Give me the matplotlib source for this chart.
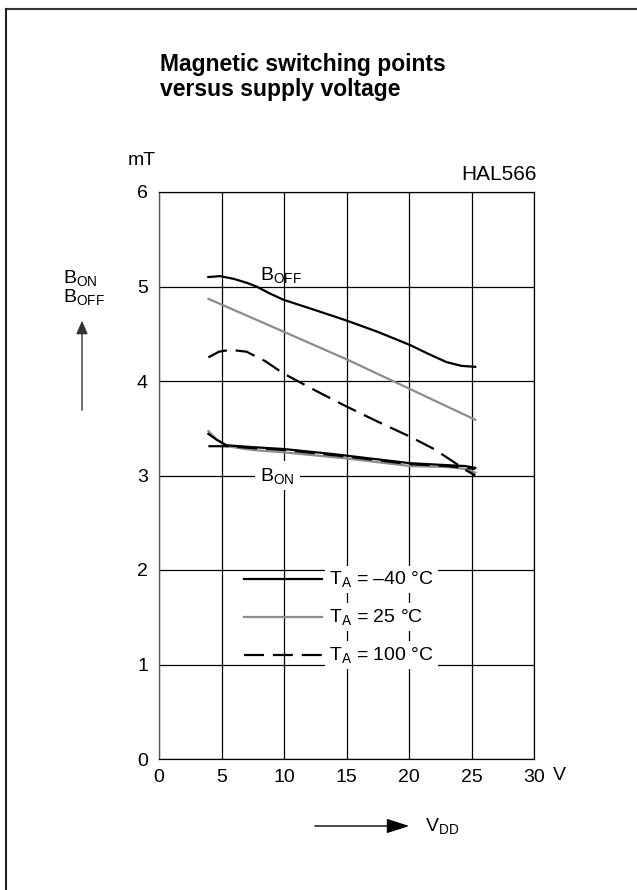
import matplotlib
matplotlib.use("Agg")
import matplotlib.pyplot as plt
from matplotlib.lines import Line2D

plt.rcParams['font.family'] = ['Liberation Sans', 'DejaVu Sans']
plt.rcParams['mathtext.fontset'] = 'custom'
plt.rcParams['mathtext.rm'] = 'Liberation Sans'
plt.rcParams['mathtext.it'] = 'Liberation Sans'
plt.rcParams['mathtext.bf'] = 'Liberation Sans:bold'

# ---- data ----
vdd_boff_m40 = [3.95, 4.9, 6.0, 7.0, 7.8, 8.8, 9.95, 12.5, 15.0, 17.5, 20.1, 21.5, 23.0, 24.2, 25.3]
boff_m40 = [5.10, 5.11, 5.08, 5.04, 5.00, 4.93, 4.86, 4.75, 4.64, 4.52, 4.38, 4.29, 4.20, 4.16, 4.15]

vdd_boff_25 = [3.95, 10.0, 15.0, 20.0, 25.3]
boff_25 = [4.87, 4.52, 4.23, 3.92, 3.59]

vdd_boff_100 = [3.95, 4.8, 5.7, 7.0, 8.5, 9.95, 12.5, 15.0, 17.5, 20.1, 22.0, 23.5, 24.5, 25.3]
boff_100 = [4.25, 4.31, 4.33, 4.31, 4.21, 4.08, 3.90, 3.73, 3.57, 3.41, 3.28, 3.15, 3.06, 3.00]

vdd_bon_m40 = [3.95, 4.6, 5.4, 7.5, 10.0, 13.7, 15.0, 20.1, 23.0, 24.5, 25.3]
bon_m40 = [3.44, 3.38, 3.32, 3.30, 3.28, 3.23, 3.21, 3.13, 3.11, 3.10, 3.08]

vdd_bon_25 = [3.95, 4.6, 5.4, 7.5, 10.0, 15.0, 20.1, 23.0, 24.5, 25.3]
bon_25 = [3.47, 3.38, 3.31, 3.27, 3.245, 3.18, 3.10, 3.09, 3.07, 3.03]

vdd_bon_100 = [3.95, 5.4, 7.5, 10.0, 15.0, 20.1, 23.0, 25.3]
bon_100 = [3.31, 3.31, 3.29, 3.27, 3.20, 3.12, 3.10, 3.07]

x_ticks = [0, 5, 10, 15, 20, 25, 30]
y_ticks = [0, 1, 2, 3, 4, 5, 6]
legend_labels = ['T$_\\mathregular{A}$ = \u201340 \u00b0C',
                 'T$_\\mathregular{A}$ = 25 \u00b0C',
                 'T$_\\mathregular{A}$ = 100 \u00b0C']

W, H = 637, 890
fig = plt.figure(figsize=(W / 100, H / 100), dpi=100)

def fx(px):
    return px / W

def fy(py):
    return 1 - py / H

# frame lines (top and left)
fig.add_artist(Line2D([fx(6), 1.0], [fy(9), fy(9)], color='#333333', lw=1.5))
fig.add_artist(Line2D([fx(6), fx(6)], [fy(9), 0.0], color='#222222', lw=1.5))

ax = fig.add_axes([fx(159), fy(759), fx(534) - fx(159), fy(192) - fy(759)])
ax.set_xlim(0, 30)
ax.set_ylim(0, 6)
ax.set_xticks(x_ticks)
ax.set_yticks(y_ticks)
ax.set_xticklabels([str(v) for v in x_ticks], fontsize=14)
ax.set_yticklabels([str(v) for v in y_ticks], fontsize=14)
ax.tick_params(length=0, pad=8)
ax.tick_params(axis='x', pad=7)
ax.grid(True, color='black', lw=0.9)
ax.set_axisbelow(True)
for s in ax.spines.values():
    s.set_linewidth(0.9)
    s.set_color('black')
ax.spines['left'].set_color('#555555')

black = '#000000'
gray = '#8c8c8c'
dash = (0, (9, 4))
lw = 1.6

ax.plot(vdd_boff_25, boff_25, color=gray, lw=lw, zorder=3)
ax.plot(vdd_bon_25, bon_25, color=gray, lw=lw, zorder=3)
ax.plot(vdd_boff_m40, boff_m40, color=black, lw=lw, zorder=4)
ax.plot(vdd_bon_m40, bon_m40, color=black, lw=lw, zorder=4)
ax.plot(vdd_boff_100, boff_100, color=black, lw=lw, ls=dash, zorder=4)
ax.plot(vdd_bon_100, bon_100, color=black, lw=lw, ls=dash, zorder=4)

# curve labels
ax.text(8.1, 5.12, 'B$_\\mathregular{OFF}$', fontsize=14, ha='left', va='center', zorder=5)
ax.text(8.1, 3.0, 'B$_\\mathregular{ON}$', fontsize=14, ha='left', va='center', zorder=5,
        bbox=dict(boxstyle='square,pad=0.25', fc='white', ec='none'))

# legend drawn inside axes
leg_y = [1.9, 1.5, 1.1]
leg_styles = [dict(color=black, ls='-'), dict(color=gray, ls='-'), dict(color=black, ls=dash)]
for yv, st, lab in zip(leg_y, leg_styles, legend_labels):
    ax.plot([6.8, 13.0], [yv, yv], lw=lw, zorder=4, **st)
    ax.text(13.6, yv, lab, fontsize=14, ha='left', va='center', zorder=5,
            bbox=dict(boxstyle='square,pad=0.2', fc='white', ec='none'))

# titles and units
fig.text(fx(160), fy(96), 'Magnetic switching points\nversus supply voltage',
         fontsize=16.5, fontweight='bold', ha='left', va='baseline', linespacing=1.1)
fig.text(fx(142), fy(161), 'mT', fontsize=14, ha='center', va='center')
fig.text(fx(537), fy(174), 'HAL566', fontsize=15, ha='right', va='center')
fig.text(fx(553), fy(775), 'V', fontsize=14, ha='left', va='center')

# y-axis quantity label with arrow
fig.text(fx(63), fy(278), 'B$_\\mathregular{ON}$', fontsize=14, ha='left', va='center')
fig.text(fx(63), fy(297), 'B$_\\mathregular{OFF}$', fontsize=14, ha='left', va='center')
fig.add_artist(matplotlib.patches.FancyArrowPatch((fx(82), fy(413)), (fx(82), fy(318)),
               transform=fig.transFigure, arrowstyle='-|>,head_length=8,head_width=3.5',
               color='#333333', lw=1.0, mutation_scale=1))

# x-axis quantity label with arrow
fig.add_artist(matplotlib.patches.FancyArrowPatch((fx(312), fy(826)), (fx(412), fy(826)),
               transform=fig.transFigure, arrowstyle='-|>,head_length=14,head_width=4.5',
               color='black', lw=1.0, mutation_scale=1))
fig.text(fx(425), fy(826), 'V$_\\mathregular{DD}$', fontsize=14, ha='left', va='center')

fig.savefig('out.png', dpi=100)
